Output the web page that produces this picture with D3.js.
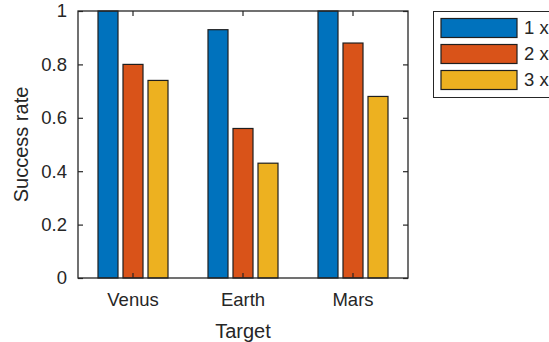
<!DOCTYPE html>
<html>
<head>
<meta charset="utf-8">
<script src="https://cdn.jsdelivr.net/npm/d3@7"></script>
<style>
  body { margin: 0; background: #fff; }
  svg { display: block; }
  text { font-family: "Liberation Sans", Arial, sans-serif; fill: #262626; }
</style>
</head>
<body>
<div id="chartDiv"></div>
<script>
// chart data
var categories = ["Venus", "Earth", "Mars"];
var seriesNames = ["1 x", "2 x", "3 x"];
var oneX = [1, 0.93, 1];
var twoX = [0.8, 0.56, 0.88];
var threeX = [0.74, 0.43, 0.68];
var yTicks = [0, 0.2, 0.4, 0.6, 0.8, 1];
var colors = ["#0072BD", "#D95319", "#EDB120"];

var W = 549, H = 342;
// note: "top" is taken by window.top, so use other names
var plotLeft = 78, plotRight = 408, plotTop = 11, plotBottom = 278;
var axisColor = "#262626";

var svg = d3.select("#chartDiv").append("svg")
    .attr("width", W)
    .attr("height", H);

var x = d3.scaleBand().domain(categories).range([plotLeft, plotRight]).padding(0);
var inner = d3.scaleBand().domain(seriesNames).range([20, 90]).paddingInner(0.2).paddingOuter(0);
var y = d3.scaleLinear().domain([0, 1]).range([plotBottom, plotTop]);

var allSeries = [oneX, twoX, threeX];

// bars
allSeries.forEach(function(vals, s) {
    svg.append("g")
        .selectAll("rect")
        .data(vals)
        .enter()
        .append("rect")
        .attr("x", function(d, i) { return x(categories[i]) + inner(seriesNames[s]); })
        .attr("y", function(d) { return y(d); })
        .attr("width", inner.bandwidth())
        .attr("height", function(d) { return y(0) - y(d); })
        .attr("fill", colors[s])
        .attr("stroke", "#1f1f1f")
        .attr("stroke-width", 1.2);
});

// axes (ticks inside, like matlab)
svg.append("g")
    .attr("transform", "translate(" + plotLeft + ",0)")
    .call(d3.axisLeft(y).tickValues(yTicks).tickFormat(d3.format("~g")).tickSize(-5).tickPadding(11));

svg.append("g")
    .attr("transform", "translate(" + plotRight + ",0)")
    .call(d3.axisRight(y).tickValues(yTicks).tickFormat("").tickSize(-5));

svg.append("g")
    .attr("transform", "translate(0," + plotBottom + ")")
    .call(d3.axisBottom(x).tickSize(-5).tickPadding(15));

svg.append("g")
    .attr("transform", "translate(0," + plotTop + ")")
    .call(d3.axisTop(x).tickFormat("").tickSize(-5));

svg.selectAll(".domain").remove();
svg.selectAll(".tick line").attr("stroke", axisColor).attr("stroke-width", 1.2);
svg.selectAll(".tick text")
    .style("font-family", "Liberation Sans, Arial, sans-serif")
    .style("font-size", "18.5px")
    .attr("fill", axisColor);

// box
svg.append("rect")
    .attr("x", plotLeft)
    .attr("y", plotTop)
    .attr("width", plotRight - plotLeft)
    .attr("height", plotBottom - plotTop)
    .attr("fill", "none")
    .attr("stroke", axisColor)
    .attr("stroke-width", 1.3);

// labels
svg.append("text")
    .attr("transform", "translate(28," + ((plotTop + plotBottom) / 2) + ") rotate(-90)")
    .attr("text-anchor", "middle")
    .style("font-size", "20px")
    .text("Success rate");

svg.append("text")
    .attr("x", (plotLeft + plotRight) / 2)
    .attr("y", 337.5)
    .attr("text-anchor", "middle")
    .style("font-size", "20px")
    .text("Target");

// legend
var legend = svg.append("g");
legend.append("rect")
    .attr("x", 433.5)
    .attr("y", 11.5)
    .attr("width", 140)
    .attr("height", 86)
    .attr("fill", "#fff")
    .attr("stroke", axisColor)
    .attr("stroke-width", 1);

seriesNames.forEach(function(name, i) {
    legend.append("rect")
        .attr("x", 441)
        .attr("y", 18.5 + i * 26)
        .attr("width", 76)
        .attr("height", 19)
        .attr("fill", colors[i])
        .attr("stroke", "#1f1f1f")
        .attr("stroke-width", 1.2);
    legend.append("text")
        .attr("x", 524)
        .attr("y", 28 + i * 26)
        .attr("dy", "0.35em")
        .style("font-size", "18.5px")
        .text(name);
});
</script>
</body>
</html>
